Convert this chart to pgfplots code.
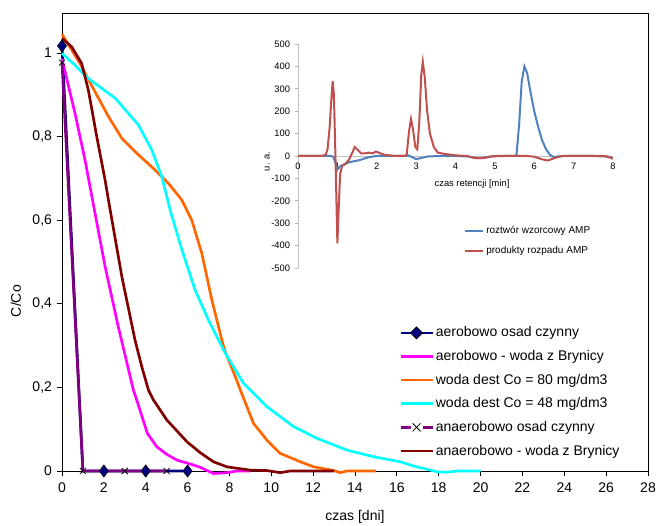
\documentclass[border=0pt]{standalone}
\usepackage{fontspec}
\setmainfont{Liberation Sans}
\usepackage{pgfplots}
\pgfplotsset{compat=1.18}
\definecolor{navyc}{RGB}{0,0,128}
\definecolor{magc}{RGB}{255,0,255}
\definecolor{orc}{RGB}{255,102,0}
\definecolor{cyc}{RGB}{0,255,255}
\definecolor{purc}{RGB}{128,0,128}
\definecolor{brc}{RGB}{128,0,0}
\definecolor{blu}{RGB}{79,129,189}
\definecolor{redc}{RGB}{192,80,77}
\begin{document}
\begin{tikzpicture}
\useasboundingbox (-46.5pt,-40.5pt) rectangle (446.25pt,353.25pt);
% main chart
\begin{axis}[
    at={(0,0)}, anchor=south west,
    width=439.5pt, height=343.5pt, scale only axis,
    xmin=0, xmax=28, ymin=0, ymax=1.0957,
    xtick={0,2,...,28},
    ytick={0,0.2,0.4,0.6,0.8,1},
    yticklabels={0,{0,2},{0,4},{0,6},{0,8},1},
    /pgf/number format/assume math mode=true,
    tick align=outside, xtick pos=bottom, ytick pos=left,
    major tick length=4pt,
    tick style={black, line width=0.6pt},
    axis line style={black, line width=0.6pt},
    font=\fontsize{10.5}{12.6}\selectfont,
    xticklabel style={yshift=-1pt},
    clip=false,
    xlabel={czas [dni]}, ylabel={C/Co},
    xlabel style={at={(rel axis cs:0.5,-0.1004)}, anchor=center},
    ylabel style={at={(rel axis cs:-0.0785,0.371)}, anchor=center},
    legend cell align=left,
    legend style={at={(axis cs:16.1,0.352)}, anchor=north west, draw=none, fill=none,
        inner sep=0pt, row sep=4.6pt, font=\fontsize{10.5}{12.6}\selectfont,
        nodes={inner xsep=1.5pt}},
    legend image code/.code={\draw[#1, line width=2pt] (0pt,0pt) -- (24pt,0pt);},
    every axis plot/.append style={line width=2pt},
]
\addplot[navyc, legend image code/.code={
        \draw[navyc, line width=2pt] (0pt,0pt) -- (24pt,0pt);
        \filldraw[fill=navyc, draw=black, line width=0.5pt] (12pt,4.5pt) -- (16.5pt,0pt) -- (12pt,-4.5pt) -- (7.5pt,0pt) -- cycle;}]
    coordinates {(0,1.017)(1,0)(2,0)(4,0)(6,0)};
\addlegendentry{aerobowo osad czynny}
\addplot[magc] coordinates {
    (0,0.985)(0.11,0.963)(0.62,0.856)(1.1,0.744)(1.55,0.624)(2.06,0.489)(2.69,0.345)
    (3.41,0.194)(3.57,0.17)(4.08,0.09)(4.53,0.058)(5.0,0.04)(5.49,0.026)(6.12,0.017)
    (6.6,0.009)(7.24,-0.006)(7.88,-0.004)(8.36,0)(9,0)};
\addlegendentry{aerobowo - woda z Brynicy}
\addplot[orc] coordinates {
    (0,1.045)(0.86,0.975)(1.58,0.907)(2.22,0.848)(2.86,0.796)(3.49,0.764)(4.45,0.72)
    (5.09,0.688)(5.73,0.648)(6.2,0.60)(6.68,0.521)(7.16,0.409)(7.64,0.313)(7.8,0.285)
    (8.28,0.226)(8.52,0.194)(9.15,0.114)(9.79,0.074)(10.43,0.042)(11.39,0.022)
    (12.02,0.01)(13.0,0.001)(13.3,-0.004)(13.6,0)(15,0)};
\addlegendentry{woda dest Co = 80 mg/dm3}
\addplot[cyc] coordinates {
    (0,0.999)(0.62,0.971)(1.26,0.939)(2.54,0.892)(3.65,0.828)(4.29,0.768)(4.77,0.704)
    (5.17,0.624)(5.73,0.529)(6.36,0.433)(7.0,0.361)(7.8,0.282)(8.67,0.21)(9.79,0.154)
    (11.07,0.106)(12.19,0.078)(13.62,0.05)(14.9,0.034)(16.17,0.022)(16.8,0.012)
    (17.93,-0.002)(18.4,-0.003)(18.9,0)(20,0)};
\addlegendentry{woda dest Co = 48 mg/dm3}
\addplot[purc, mark=x, mark size=3.2pt, mark options={black, line width=0.6pt},
    legend image code/.code={
        \draw[purc, line width=2pt] (0pt,0pt) -- (7.5pt,0pt);
        \draw[purc, line width=2pt] (16.5pt,0pt) -- (24pt,0pt);
        \draw[black, line width=0.6pt] (9pt,-3pt) -- (15pt,3pt) (9pt,3pt) -- (15pt,-3pt);}]
    coordinates {(0,0.977)(1,0)(3,0)(5,0)};
\addlegendentry{anaerobowo osad czynny}
\addplot[brc] coordinates {
    (0,1.035)(0.46,1.015)(0.94,0.975)(1.26,0.911)(1.66,0.80)(2.06,0.696)(2.22,0.648)
    (2.86,0.465)(3.49,0.313)(3.81,0.25)(4.13,0.194)(4.37,0.17)(5.01,0.122)(5.97,0.07)
    (6.6,0.044)(7.24,0.022)(7.88,0.01)(9.0,0.002)(9.8,0.001)(10.43,-0.004)(10.9,0)(13,0)};
\addlegendentry{anaerobowo - woda z Brynicy}
\addplot[forget plot, only marks, mark=diamond*, mark size=4.5pt, mark options={fill=navyc, draw=black, line width=0.5pt}]
    coordinates {(0,1.017)(2,0)(4,0)(6,0)};
\end{axis}
% inset chromatogram
\begin{axis}[
    at={(177pt,152.25pt)}, anchor=south west,
    width=236.25pt, height=168pt, scale only axis,
    xmin=0, xmax=8, ymin=-500, ymax=500,
    axis x line=middle, axis y line=left,
    axis line style={-, gray!50, line width=0.6pt},
    hide obscured x ticks=false, hide obscured y ticks=false,
    xtick={0,1,...,8}, ytick={-500,-400,...,500},
    /pgf/number format/assume math mode=true,
    tick align=outside, major tick length=2.5pt,
    tick style={gray!60, line width=0.5pt},
    xtick style={draw=none},
    font=\fontsize{7}{8.4}\selectfont,
    xticklabel style={yshift=1pt},
    xlabel={czas retencji [min]}, ylabel={u. a.},
    xlabel style={at={(rel axis cs:0.5525,0.375)}, anchor=center},
    ylabel style={at={(rel axis cs:-0.098,0.475)}, anchor=center},
    legend cell align=left,
    legend style={at={(axis cs:4.2,-300)}, anchor=north west, draw=none, fill=none,
        inner sep=0pt, row sep=4pt, font=\fontsize{7.5}{9}\selectfont,
        nodes={inner xsep=1.5pt}},
    legend image code/.code={\draw[#1, line width=1.5pt] (0pt,0pt) -- (14pt,0pt);},
    every axis plot/.append style={line width=1.5pt},
]
\addplot[blu] coordinates {
    (0,0)(0.5,0)(0.85,0)(0.9,-5)(0.95,-30)(1.0,-60)(1.05,-48)(1.14,-40)(1.3,-28)
    (1.57,-18)(1.8,-5)(2.0,0)(2.5,0)(2.75,0)(2.8,3)(2.9,-5)(3.0,-14)(3.1,-10)
    (3.3,-2)(3.6,0)(4.0,0)(4.3,-2)(4.6,-10)(4.8,-5)(5.0,0)(5.5,0)(5.55,5)(5.62,150)
    (5.68,330)(5.75,400)(5.82,370)(5.9,290)(6.0,200)(6.1,130)(6.2,70)(6.3,30)
    (6.4,5)(6.5,-5)(6.6,-2)(6.8,0)(7.5,0)(7.9,-3)(8.0,-10)};
\addlegendentry{roztwór wzorcowy AMP}
\addplot[redc] coordinates {
    (0,0)(0.6,0)(0.7,5)(0.75,30)(0.8,120)(0.85,260)(0.88,335)(0.91,280)(0.94,80)
    (0.97,-150)(1.0,-390)(1.03,-250)(1.07,-80)(1.12,-45)(1.2,-35)(1.3,-15)(1.38,15)
    (1.44,40)(1.5,30)(1.6,12)(1.7,12)(1.8,15)(1.9,12)(1.98,20)(2.05,15)(2.2,5)
    (2.5,0)(2.7,0)(2.76,5)(2.82,110)(2.87,165)(2.92,120)(2.98,40)(3.03,30)(3.08,150)
    (3.13,360)(3.17,420)(3.22,350)(3.28,200)(3.35,100)(3.45,40)(3.55,15)(3.7,10)
    (4.0,3)(4.3,0)(4.5,-10)(4.7,-10)(4.9,-2)(5.2,0)(5.8,0)(6.0,-3)(6.2,-15)
    (6.35,-20)(6.5,-10)(6.7,0)(7.5,0)(7.8,0)(8.0,-12)};
\addlegendentry{produkty rozpadu AMP}
\end{axis}
\end{tikzpicture}
\end{document}
